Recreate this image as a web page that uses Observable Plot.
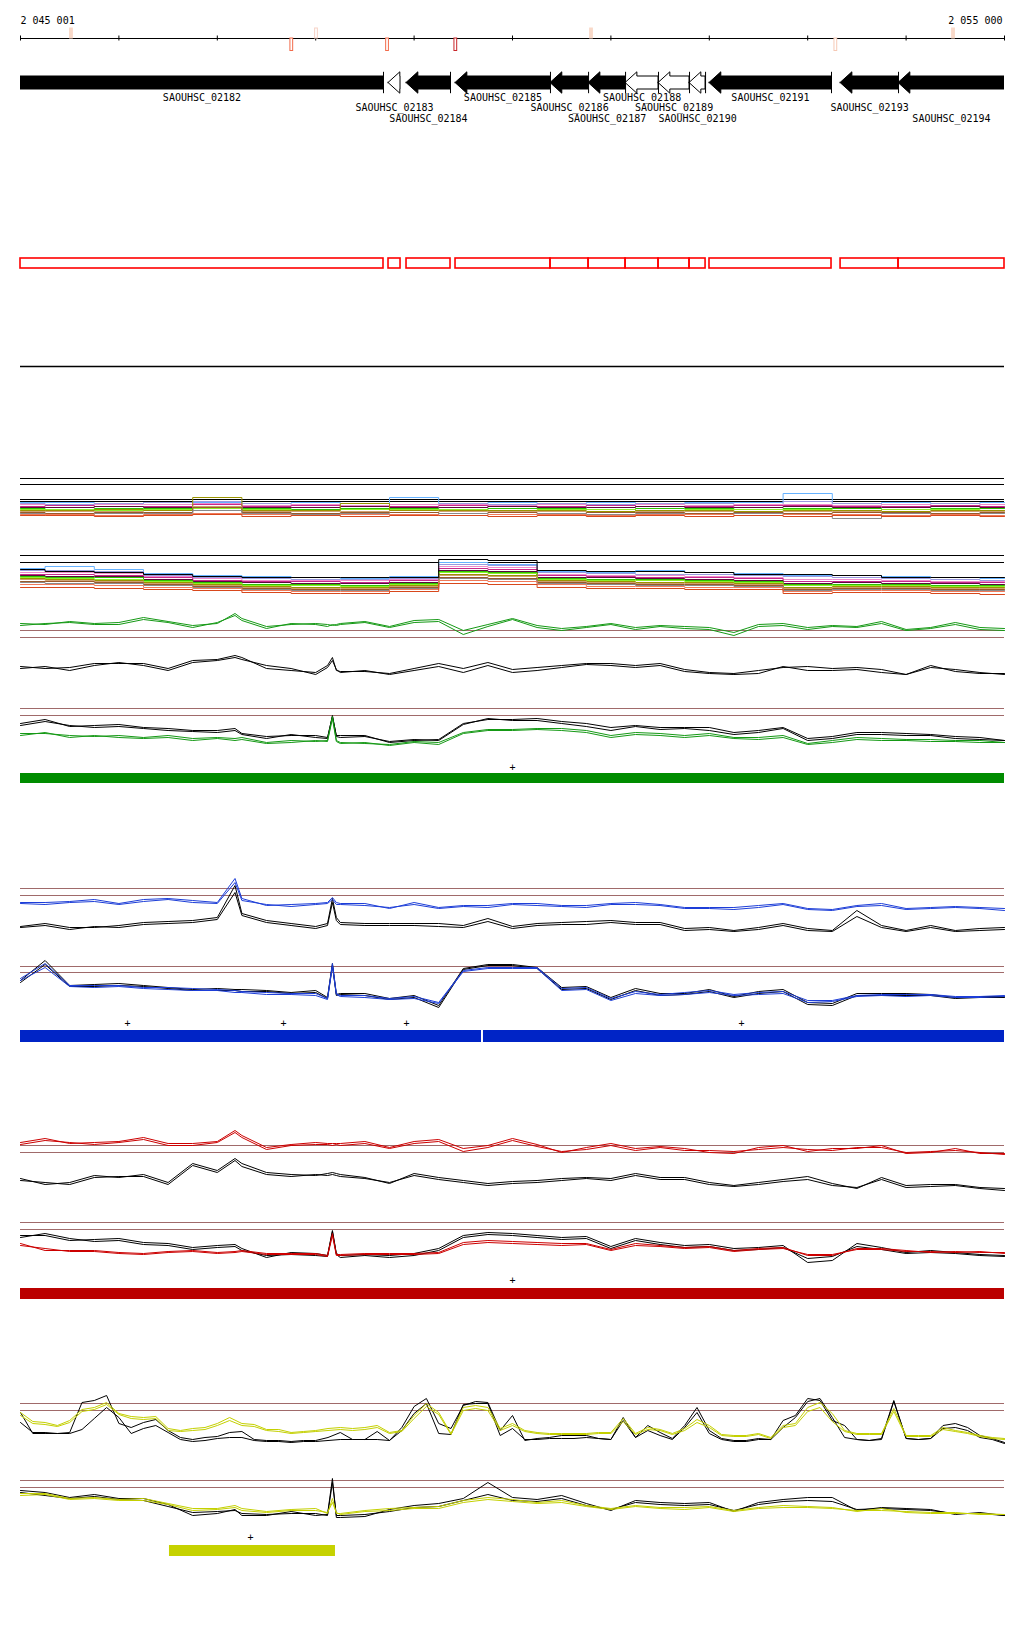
<!DOCTYPE html>
<html><head><meta charset="utf-8">
<script src="https://cdn.jsdelivr.net/npm/d3@7"></script>
<script src="https://cdn.jsdelivr.net/npm/@observablehq/plot@0.6"></script>
<style>
html,body{margin:0;padding:0;background:#fff;}
#chart{position:relative;width:1024px;height:1640px;overflow:hidden;}
</style></head><body><div id="chart"></div><script>
// ---------- DATA ----------
const viewStart = 2045000, viewEnd = 2055000;
const startLabel = "2 045 001", endLabel = "2 055 000";
const rulerTicks = [2045000,2046000,2047000,2048000,2049000,2050000,2051000,2052000,2053000,2054000,2055000];

const geneNames = ["SAOUHSC_02182","SAOUHSC_02183","SAOUHSC_02184","SAOUHSC_02185","SAOUHSC_02186","SAOUHSC_02187","SAOUHSC_02188","SAOUHSC_02189","SAOUHSC_02190","SAOUHSC_02191","SAOUHSC_02193","SAOUHSC_02194"];
const geneStart = [2043800,2048740,2048923,2049421,2050386,2050773,2051149,2051484,2051799,2052002,2053334,2053923];
const geneEnd   = [2048689,2048862,2049370,2050386,2050773,2051149,2051484,2051799,2051962,2053242,2053923,2055600];
const geneClass = ["A","B","A","A","A","A","B","B","B","A","A","A"];

const snpPos  = [2045518,2047757,2048008,2048730,2049424,2050803,2053286,2054482];
const snpSide = ["up","down","up","down","down","up","down","up"];
const snpKind = ["pale","mid","faint","mid","strong","pale","light","pale"];

const pos21 = [2045000,2045500,2046000,2046500,2047000,2047500,2048000,2048500,2049000,2049500,2050000,2050500,2051000,2051500,2052000,2052500,2053000,2053500,2054000,2054500,2055000];
const pos45 = [2045000,2045250,2045500,2045750,2046000,2046250,2046500,2046750,2047000,2047180,2047250,2047500,2047750,2048000,2048120,2048170,2048210,2048250,2048500,2048750,2049000,2049250,2049500,2049750,2050000,2050250,2050500,2050750,2051000,2051250,2051500,2051750,2052000,2052250,2052500,2052750,2053000,2053250,2053500,2053750,2054000,2054250,2054500,2054750,2055000];
const pos81 = [2045000,2045125,2045250,2045375,2045500,2045625,2045750,2045875,
2046000,2046125,2046250,2046375,2046500,2046625,2046750,2046875,
2047000,2047125,2047250,2047375,2047500,2047625,2047750,2047875,
2048000,2048125,2048250,2048375,2048500,2048625,2048750,2048875,
2049000,2049125,2049250,2049375,2049500,2049625,2049750,2049875,
2050000,2050125,2050250,2050375,2050500,2050625,2050750,2050875,
2051000,2051125,2051250,2051375,2051500,2051625,2051750,2051875,
2052000,2052125,2052250,2052375,2052500,2052625,2052750,2052875,
2053000,2053125,2053250,2053375,2053500,2053625,2053750,2053875,
2054000,2054125,2054250,2054375,2054500,2054625,2054750,2054875,2055000];

// multi-sample tracks (13 colored profiles + black in track 2)
const track1 = [
[10.8,10.8,10.7,10.8,10.8,10.7,10.8,10.7,11.3,10.7,10.8,10.7,10.8,10.7,10.8,10.8,11.7,10.7,10.8,10.7,10.8],
[10.7,10.6,10.7,10.8,10.9,10.7,10.6,10.7,10.6,10.7,10.6,10.7,10.6,10.7,10.7,10.6,10.9,10.7,10.6,10.7,10.6],
[10.6,10.5,10.6,10.6,10.7,10.5,10.6,10.5,10.6,10.6,10.5,10.6,10.5,10.6,10.5,10.6,10.6,10.5,10.6,10.5,10.6],
[10.4,10.5,10.4,10.4,10.6,10.4,10.5,10.4,10.4,10.5,10.4,10.4,10.5,10.4,10.4,10.5,10.5,10.4,10.4,10.5,10.4],
[10.3,10.3,10.4,10.3,10.4,10.3,10.3,10.4,10.3,10.3,10.4,10.3,10.3,10.4,10.3,10.3,10.4,10.3,10.3,10.4,10.3],
[10.2,10.1,10.2,10.2,10.3,10.2,10.1,10.2,10.2,10.1,10.2,10.2,10.1,10.2,10.2,10.1,10.2,10.2,10.1,10.2,10.2],
[10.1,10.1,10.0,10.1,10.2,10.1,10.0,10.1,10.1,10.1,10.0,10.1,10.1,10.0,10.1,10.1,10.1,10.0,10.1,10.1,10.0],
[10.0,10.0,10.1,10.0,11.3,10.0,10.0,10.7,10.0,10.0,10.0,10.0,9.9,10.0,10.0,9.9,10.0,10.0,9.9,10.0,10.0],
[9.9,9.9,9.9,9.8,10.4,9.9,9.9,9.9,9.8,9.9,9.9,9.9,9.8,9.9,9.9,9.8,9.9,9.9,9.8,9.9,9.9],
[9.8,9.7,9.8,9.8,10.3,9.8,9.7,9.8,9.8,9.7,9.8,9.7,9.8,9.8,9.7,9.8,9.7,9.8,9.8,9.7,9.8],
[9.7,9.6,9.7,9.7,10.0,9.7,9.6,9.7,9.6,9.7,9.6,9.7,9.6,9.7,9.6,9.7,9.6,9.2,9.7,9.6,9.7],
[9.6,9.6,9.5,9.6,9.7,9.6,9.5,9.6,9.6,9.5,9.6,9.6,9.5,9.6,9.6,9.5,9.6,9.6,9.5,9.6,9.5],
[9.5,9.5,9.4,9.5,9.6,9.4,9.5,9.4,9.5,9.5,9.4,9.5,9.4,9.5,9.4,9.5,9.4,9.5,9.4,9.5,9.4]
];
const track2 = [
[4.1,3.9,3.8,3.6,3.4,3.3,3.3,3.3,3.3,5.1,5.0,4.0,3.9,3.9,3.8,3.6,3.6,3.5,3.3,3.3,3.3],
[4.2,4.4,4.1,3.7,3.5,3.4,3.3,3.2,3.4,4.8,4.6,3.9,3.8,4.0,3.8,3.7,3.5,3.5,3.4,3.3,3.2],
[4.0,4.0,3.9,3.5,3.3,3.2,3.1,3.1,3.2,4.6,4.5,3.8,3.7,3.6,3.6,3.5,3.4,3.3,3.2,3.1,3.0],
[3.8,3.8,3.7,3.4,3.2,3.0,3.0,3.0,3.1,4.4,4.3,3.6,3.5,3.5,3.4,3.3,3.1,3.1,3.0,2.9,2.9],
[3.6,3.6,3.5,3.3,3.0,2.9,2.9,2.8,3.0,4.2,4.1,3.5,3.4,3.3,3.3,3.2,2.9,2.9,2.9,2.8,2.8],
[3.5,3.4,3.4,3.1,2.9,2.8,2.7,2.7,2.8,4.0,3.9,3.3,3.3,3.2,3.1,3.0,2.7,2.8,2.7,2.7,2.6],
[3.4,3.3,3.3,3.0,2.8,2.6,2.6,2.5,2.7,3.9,3.8,3.2,3.1,3.1,3.0,2.9,2.6,2.6,2.6,2.5,2.5],
[3.3,3.2,3.1,2.9,2.7,2.5,2.5,2.4,2.6,3.8,3.7,3.1,3.0,3.0,2.9,2.8,2.5,2.5,2.5,2.4,2.4],
[3.2,3.1,3.0,2.8,2.6,2.4,2.3,2.3,2.5,3.6,3.5,3.0,2.9,2.8,2.8,2.7,2.3,2.4,2.4,2.3,2.3],
[3.1,3.0,2.9,2.7,2.5,2.3,2.2,2.2,2.4,3.5,3.4,2.9,2.8,2.7,2.7,2.6,2.2,2.3,2.3,2.2,2.2],
[2.9,2.9,2.8,2.6,2.4,2.2,2.1,2.1,2.3,3.3,3.2,2.8,2.7,2.6,2.6,2.5,2.1,2.2,2.2,2.1,2.1],
[2.8,2.7,2.7,2.5,2.3,2.1,2.0,2.0,2.2,3.2,3.1,2.7,2.6,2.5,2.5,2.4,2.0,2.1,2.1,2.0,2.0],
[2.6,2.6,2.5,2.3,2.2,2.0,1.9,1.9,2.1,3.0,2.9,2.6,2.4,2.4,2.3,2.3,1.9,2.0,2.0,1.9,1.9],
[2.3,2.3,2.2,2.1,2.0,1.8,1.7,1.7,1.9,2.7,2.6,2.3,2.2,2.2,2.1,2.1,1.7,1.8,1.8,1.7,1.6]
];
const track1Refs = [13.2,12.6,11.1,10.9];
const track2Refs = [5.5,4.8];

// green condition
const greenTopA = [17.7,17.6,17.9,17.7,17.8,18.3,17.9,17.5,17.7,18.7,18.2,17.4,17.6,17.7,17.6,17.5,17.6,17.7,17.9,17.4,18.0,18.1,17.0,17.6,18.2,17.5,17.2,17.4,17.7,17.3,17.5,17.4,17.3,16.8,17.6,17.7,17.3,17.5,17.4,17.9,17.1,17.3,17.8,17.3,17.2];
const greenTopB = [17.5,17.7,17.8,17.6,17.6,18.1,17.8,17.3,17.8,18.5,18.0,17.2,17.7,17.6,17.4,17.6,17.5,17.6,17.8,17.3,17.8,17.9,16.6,17.4,18.1,17.3,17.0,17.3,17.6,17.1,17.4,17.2,17.1,16.5,17.4,17.5,17.1,17.4,17.3,17.7,17.0,17.2,17.6,17.1,17.0];
const greenCtlA = [13.4,13.2,13.3,13.7,13.7,13.7,13.2,14.0,14.1,14.5,14.3,13.2,13.0,12.8,13.5,14.3,13.0,12.9,12.9,12.7,13.2,13.7,13.2,13.8,13.1,13.3,13.5,13.7,13.7,13.5,13.7,13.1,12.8,12.7,13.0,13.3,13.4,13.2,13.3,13.1,12.6,13.5,12.9,12.7,12.7];
const greenCtlB = [13.2,13.4,13.0,13.5,13.8,13.5,13.0,13.8,14.0,14.3,14.1,13.5,13.2,12.6,13.3,14.0,13.1,12.8,13.0,12.6,13.0,13.4,12.8,13.5,12.8,13.0,13.3,13.6,13.5,13.3,13.5,12.9,12.7,12.6,12.7,13.4,13.0,13.0,13.1,12.8,12.6,13.3,13.1,12.8,12.6];
const greenLowCtlA = [7.7,8.1,7.4,7.5,7.6,7.3,7.2,7.0,7.0,7.2,6.7,6.4,6.5,6.5,6.3,8.4,6.5,6.5,6.5,5.8,6.0,6.1,7.7,8.1,8.1,8.2,7.9,7.7,7.3,7.5,7.3,7.3,7.3,6.8,7.0,7.3,6.2,6.4,6.8,6.8,6.7,6.6,6.4,6.3,6.0];
const greenLowCtlB = [7.5,7.9,7.5,7.3,7.4,7.2,7.0,6.9,6.8,7.0,6.6,6.2,6.6,6.3,6.2,8.5,6.4,6.3,6.4,5.9,6.1,6.0,7.6,8.2,8.0,8.0,7.7,7.4,7.0,7.4,7.1,7.2,7.0,6.6,6.8,7.2,6.0,6.2,6.6,6.6,6.5,6.5,6.2,6.1,6.0];
const greenLowA = [6.7,6.7,6.5,6.4,6.5,6.3,6.5,6.2,6.3,6.2,6.3,5.8,6.0,5.9,6.0,8.4,6.0,5.8,5.7,5.6,5.9,5.8,6.8,7.1,7.1,7.2,7.2,7.0,6.5,6.8,6.7,6.5,6.7,6.3,6.3,6.5,5.7,6.0,6.3,6.2,6.1,6.1,6.0,6.0,5.8];
const greenLowB = [6.5,6.8,6.3,6.5,6.3,6.2,6.3,6.0,6.2,6.0,6.1,5.7,5.8,6.0,5.9,8.2,5.9,5.7,5.8,5.5,5.8,5.6,6.7,7.0,7.0,7.1,7.0,6.8,6.3,6.6,6.5,6.3,6.5,6.2,6.1,6.3,5.6,5.8,6.1,6.0,6.0,5.9,5.9,5.8,5.8];
const greenRefs = [17.0,16.3,9.2,8.5];
const greenMarks = [2050000];
const greenRegions = [[2045000,2055000]];

// blue condition
const blueTopA = [16.8,16.8,16.9,17.1,16.7,17.1,17.2,17.0,16.8,19.2,17.2,16.5,16.6,16.7,16.8,17.3,16.8,16.7,16.7,16.2,16.8,16.3,16.5,16.5,16.7,16.7,16.5,16.5,16.7,16.8,16.6,16.3,16.3,16.3,16.5,16.7,16.2,16.1,16.5,16.7,16.2,16.3,16.4,16.3,16.2];
const blueTopB = [16.7,16.6,16.8,16.9,16.6,16.9,17.1,16.8,16.7,18.8,17.0,16.6,16.4,16.6,16.7,17.1,16.6,16.6,16.5,16.3,16.6,16.2,16.4,16.3,16.6,16.5,16.4,16.3,16.6,16.6,16.5,16.2,16.2,16.1,16.3,16.6,16.1,16.0,16.4,16.5,16.1,16.2,16.3,16.2,16.0];
const blueCtlA = [14.4,14.7,14.3,14.3,14.5,14.8,14.9,15.0,15.3,18.5,15.7,15.0,14.7,14.4,14.7,17.2,15.3,14.8,14.7,14.7,14.7,14.7,14.5,15.2,14.4,14.7,14.8,14.9,15.0,14.8,14.8,14.2,14.3,14.0,14.3,14.7,14.2,14.0,16.0,14.5,14.0,14.5,14.0,14.2,14.3];
const blueCtlB = [14.3,14.5,14.1,14.4,14.3,14.6,14.7,14.8,15.1,17.8,15.5,14.8,14.5,14.2,14.5,16.8,15.0,14.6,14.5,14.5,14.5,14.4,14.3,14.9,14.2,14.5,14.6,14.6,14.8,14.6,14.6,14.0,14.1,13.9,14.1,14.5,14.0,13.9,15.4,14.3,13.9,14.3,13.9,14.0,14.1];
const blueLowA = [9.2,10.7,8.5,8.5,8.5,8.3,8.3,8.2,8.1,8.0,7.9,7.8,7.7,7.7,7.2,10.7,7.7,7.5,7.5,7.2,7.4,6.8,10.0,10.3,10.3,10.3,8.2,8.3,7.2,7.9,7.6,7.8,8.0,7.6,7.8,7.9,7.0,7.0,7.5,7.6,7.6,7.6,7.4,7.4,7.5];
const blueLowB = [9.0,10.3,8.4,8.3,8.4,8.2,8.1,8.0,8.0,7.8,7.8,7.6,7.6,7.5,7.1,10.4,7.6,7.4,7.3,7.1,7.2,6.7,9.9,10.2,10.2,10.2,8.0,8.1,7.0,7.7,7.5,7.6,7.8,7.5,7.6,7.7,6.8,6.9,7.4,7.5,7.4,7.5,7.3,7.3,7.4];
const blueLowCtlA = [9.0,11.0,8.5,8.6,8.7,8.5,8.3,8.1,8.2,8.1,8.1,8.0,7.8,8.0,7.3,10.7,7.6,7.7,7.7,7.2,7.5,6.5,10.2,10.6,10.6,10.3,8.3,8.4,7.3,8.2,7.7,7.7,8.1,7.4,7.9,8.1,6.8,6.7,7.7,7.7,7.7,7.6,7.3,7.4,7.4];
const blueLowCtlB = [8.8,10.6,8.4,8.4,8.5,8.4,8.2,8.0,8.0,8.0,7.9,7.9,7.7,7.8,7.2,10.5,7.5,7.6,7.5,7.1,7.3,6.3,10.1,10.5,10.5,10.2,8.1,8.2,7.1,8.0,7.5,7.6,7.9,7.3,7.7,7.9,6.6,6.5,7.5,7.5,7.5,7.5,7.2,7.3,7.3];
const blueRefs = [18.2,17.5,10.4,9.8];
const blueMarks = [2046087,2047673,2048923,2052327];
const blueRegions = [[2045000,2049685],[2049705,2055000]];

// red condition
const redTopA = [17.8,18.2,17.7,17.8,17.9,18.3,17.7,17.7,17.9,19.0,18.5,17.3,17.6,17.8,17.7,17.7,17.7,17.7,17.9,17.3,17.9,18.1,17.2,17.5,18.2,17.6,16.8,17.3,17.7,17.2,17.4,17.2,16.8,16.7,17.3,17.5,16.9,17.2,17.2,17.5,16.7,16.8,17.2,16.7,16.7];
const redTopB = [17.6,18.0,17.8,17.6,17.8,18.1,17.5,17.5,17.8,18.8,18.3,17.1,17.5,17.6,17.6,17.5,17.6,17.5,17.7,17.2,17.7,17.9,16.9,17.3,18.0,17.4,16.9,17.1,17.5,17.0,17.3,17.0,17.0,16.9,17.1,17.3,17.1,17.0,17.3,17.3,16.8,16.9,17.0,16.8,16.6];
const redCtlA = [14.2,13.6,13.8,14.5,14.3,14.6,13.8,15.7,15.0,16.2,15.7,14.8,14.6,14.5,14.7,14.8,14.7,14.6,14.3,13.7,14.7,14.3,14.0,13.7,13.9,14.0,14.2,14.3,14.2,14.7,14.3,14.3,13.8,13.5,13.8,14.1,14.4,13.7,13.2,14.3,13.5,13.6,13.6,13.3,13.2];
const redCtlB = [14.0,13.8,13.6,14.3,14.4,14.4,13.6,15.5,14.8,16.0,15.4,14.6,14.4,14.6,14.5,14.6,14.5,14.4,14.2,13.8,14.5,14.1,13.8,13.5,13.7,13.8,14.0,14.2,14.0,14.5,14.1,14.1,13.6,13.4,13.6,13.9,14.1,13.5,13.3,14.1,13.3,13.4,13.5,13.2,13.0];
const redLowCtlA = [8.5,8.5,8.0,8.1,8.2,7.8,7.7,7.3,7.5,7.6,7.2,6.3,6.8,6.7,6.5,9.0,6.7,6.5,6.6,6.5,6.7,7.2,8.5,8.8,8.7,8.5,8.3,8.4,7.4,8.2,7.8,7.5,7.6,7.2,7.3,7.5,5.8,6.0,7.7,7.3,6.8,7.0,6.8,6.6,6.5];
const redLowCtlB = [8.3,8.7,8.2,7.9,8.0,7.6,7.5,7.1,7.3,7.4,7.0,6.5,6.6,6.5,6.4,8.9,6.6,6.3,6.5,6.3,6.5,7.0,8.3,8.6,8.5,8.3,8.1,8.2,7.2,8.0,7.6,7.3,7.4,7.0,7.1,7.3,6.2,6.4,7.4,7.1,6.7,6.8,6.7,6.5,6.4];
const redLowA = [7.7,7.0,7.0,7.0,6.8,6.7,6.9,7.0,6.8,6.9,7.0,6.7,6.7,6.7,6.5,8.7,6.6,6.6,6.7,6.7,6.7,6.8,7.8,8.0,7.9,7.8,7.7,7.7,7.1,7.7,7.5,7.3,7.4,7.0,7.2,7.3,6.5,6.5,7.2,7.2,7.0,6.8,6.9,6.8,6.8];
const redLowB = [7.5,7.2,6.9,6.9,6.7,6.6,6.8,6.9,6.7,6.8,6.9,6.6,6.6,6.6,6.4,8.5,6.5,6.5,6.6,6.6,6.6,6.7,7.6,7.8,7.7,7.6,7.5,7.6,7.0,7.5,7.4,7.2,7.3,6.9,7.1,7.2,6.6,6.6,7.1,7.1,6.9,6.9,6.8,6.9,6.7];
const redRefs = [17.5,16.8,9.8,9.1];
const redMarks = [2050000];
const redRegions = [[2045000,2055000]];

// yellow condition (upper profiles on the 125 bp grid)
const yellowCtlA = [15.8,14.8,14.8,14.7,14.8,17.8,18.0,18.5,15.7,15.3,15.8,16.1,15.0,14.3,14.1,14.3,14.4,14.8,14.9,14.1,14.0,14.0,13.9,14.0,14.0,14.3,14.8,14.1,14.1,14.9,14.0,15.3,17.4,18.2,15.7,15.2,17.5,17.9,17.8,15.0,16.5,14.0,14.2,14.3,14.5,14.5,14.5,14.2,14.1,16.3,14.3,15.5,14.8,14.2,15.5,17.3,15.0,14.2,14.0,14.0,14.2,14.1,16.0,16.5,18.2,18.0,16.0,15.5,14.1,14.0,14.2,18.0,14.2,14.1,14.2,15.5,15.7,15.3,14.5,14.2,13.8];
const yellowCtlB = [16.8,14.7,14.7,14.7,14.7,15.1,16.2,17.3,16.3,14.7,15.2,15.5,14.8,14.1,13.9,14.0,14.2,14.3,14.3,14.0,13.9,13.9,13.8,13.9,13.9,14.0,14.1,14.1,14.1,14.1,14.0,15.0,16.7,17.7,14.7,14.6,17.6,17.7,17.7,14.5,15.2,14.1,14.1,14.2,14.2,14.2,14.3,14.2,14.1,16.0,14.3,15.0,14.5,14.1,15.3,16.8,14.7,14.1,13.9,13.9,14.1,14.1,15.3,16.3,17.9,18.2,16.3,14.3,14.1,14.0,14.1,17.9,14.2,14.1,14.2,15.2,15.3,15.0,14.3,14.1,13.7];
const yellowTopA = [16.8,15.9,15.8,15.5,16.0,17.1,17.3,17.8,16.7,16.4,16.3,16.4,15.2,15.0,15.2,15.3,15.7,16.3,15.7,15.6,15.1,15.1,14.8,14.9,15.0,15.2,15.3,15.2,15.3,15.5,14.8,15.0,16.5,17.7,16.8,14.7,17.3,17.5,17.3,15.2,15.7,15.0,14.8,14.7,14.7,14.7,14.7,14.8,14.8,16.2,14.7,15.3,15.1,14.7,15.2,16.1,15.5,14.6,14.5,14.5,14.7,14.3,15.5,15.7,17.3,17.8,16.7,15.0,14.7,14.7,14.7,17.2,14.5,14.5,14.5,15.3,15.0,14.8,14.5,14.3,14.2];
const yellowTopB = [16.5,15.7,15.6,15.4,15.8,16.9,17.1,17.6,16.6,16.2,16.1,16.2,15.0,14.9,15.0,15.1,15.5,16.0,15.5,15.4,15.0,14.9,14.7,14.8,14.9,15.0,15.1,15.0,15.1,15.3,14.7,14.9,16.2,17.4,16.6,14.6,17.0,17.2,17.0,15.0,15.5,14.9,14.7,14.6,14.6,14.6,14.6,14.7,14.7,15.9,14.6,15.1,15.0,14.6,15.0,15.8,15.3,14.5,14.4,14.4,14.6,14.2,15.3,15.5,16.9,17.3,15.9,14.9,14.6,14.6,14.6,16.9,14.4,14.4,14.4,15.1,14.9,14.7,14.4,14.2,14.1];
const yellowLowCtlA = [9.0,8.8,8.3,8.6,8.2,8.2,7.6,6.5,6.7,7.1,6.5,6.5,6.9,6.5,6.6,10.2,6.3,6.3,6.4,7.1,7.5,7.7,8.2,9.8,8.3,8.1,8.5,7.7,7.0,8.0,7.8,7.7,7.8,6.9,7.8,8.1,8.3,8.3,7.0,7.3,7.2,7.1,6.6,6.8,6.5];
const yellowLowCtlB = [8.8,8.5,8.2,8.4,8.1,8.0,7.4,6.8,6.9,7.0,6.7,6.6,6.7,6.7,6.5,9.8,6.5,6.5,6.6,6.9,7.3,7.4,8.0,8.6,8.0,7.9,8.2,7.5,7.1,7.8,7.6,7.5,7.6,7.0,7.6,7.9,8.0,7.9,7.1,7.2,7.1,7.0,6.7,6.7,6.5];
const yellowLowA = [8.7,8.7,8.2,8.3,8.1,8.2,7.7,7.2,7.2,7.5,7.2,6.9,7.1,7.2,6.7,8.2,6.7,6.7,7.0,7.2,7.3,7.4,8.0,8.3,8.1,7.8,8.0,7.5,7.2,7.5,7.3,7.3,7.4,7.0,7.3,7.5,7.4,7.3,6.9,7.2,6.8,6.7,6.7,6.7,6.6];
const yellowLowB = [8.5,8.6,8.1,8.2,8.0,8.0,7.6,7.0,7.1,7.3,7.0,6.8,7.0,7.0,6.8,7.8,6.8,6.6,6.9,7.0,7.2,7.2,7.8,8.1,7.9,7.7,7.8,7.4,7.1,7.4,7.2,7.1,7.3,6.9,7.2,7.3,7.3,7.2,7.0,7.0,6.9,6.8,6.8,6.6,6.6];
const yellowRefs = [17.7,17.0,10.0,9.3];
const yellowMarks = [2047337];
const yellowRegions = [[2046514,2048201]];

// ---------- DRAWING ----------
const FONT = "'DejaVu Sans Mono', 'Liberation Mono', monospace";
const BROWN = "#a06a6a";
const multiColors = ["#66b2ff","#9a9ae0","#f08ccc","#c8288c","#5c0a3c","#2ec400","#8cf02a","#9a9400","#d0a070","#9a5a2a","#8a8a8a","#f07a5a","#d8481c"];
const chart = document.getElementById("chart");

function addPanel(top, height, yMax, marks) {
  const svg = Plot.plot({
    width: 1024, height,
    marginLeft: 20, marginRight: 20, marginTop: 0, marginBottom: 0,
    x: {domain: [viewStart, viewEnd], axis: null},
    y: {domain: [0, yMax], axis: null},
    color: {type: "identity"},
    style: {background: "transparent", fontFamily: FONT, fontSize: "10px", overflow: "visible"},
    marks
  });
  svg.style.position = "absolute";
  svg.style.left = "0px";
  svg.style.top = top + "px";
  chart.appendChild(svg);
}
function rows(pos, vals, key, color) {
  return vals.map((v, i) => ({pos: pos[i], val: v, key, color}));
}
function lines(data, curve = "linear") {
  return Plot.line(data, {x: "pos", y: "val", z: "key", stroke: "color", strokeWidth: 1, curve});
}

// --- ruler and genes ---
const GC = 4.75, BODY = 0.65, HEADH = 1.07, HEADL = 120;
const geneIdx = geneNames.map((_, i) => i);
function arrow(i) {
  const s = geneStart[i], e = geneEnd[i], h = Math.min(HEADL, e - s);
  const r = [{x: s, y1: GC, y2: GC}, {x: s + h, y1: GC - HEADH, y2: GC + HEADH}];
  if (e - s > HEADL) r.push({x: s + h, y1: GC - BODY, y2: GC + BODY}, {x: e, y1: GC - BODY, y2: GC + BODY});
  return r.map(d => ({...d, name: geneNames[i], cls: geneClass[i]}));
}
const arrows = geneIdx.flatMap(arrow);
const visMid = i => (Math.max(geneStart[i], viewStart) + Math.min(geneEnd[i], viewEnd)) / 2;
const labelRow = [3.3, 2.3, 1.2];
const snpColors = {pale: ["#f9d9c9", "#f9d9c9"], faint: ["#f7d2c6", "#ffffff"], mid: ["#f26b4b", "#ffffff"], strong: ["#c8262a", "#ffffff"], light: ["#f6c9b5", "#ffffff"]};
const snpIdx = snpPos.map((_, i) => i);

addPanel(0, 130, 13, [
  Plot.text([startLabel], {x: viewStart, y: 11.0, text: d => d, textAnchor: "start", fontSize: 10, fill: "black"}),
  Plot.text([endLabel], {x: viewEnd, y: 11.0, text: d => d, textAnchor: "end", dx: -2, fontSize: 10, fill: "black"}),
  Plot.ruleY([9.2], {stroke: "black", strokeWidth: 1}),
  Plot.ruleX(rulerTicks, {y1: 8.95, y2: 9.45, stroke: "black", strokeWidth: 1}),
  Plot.rect(snpIdx, {x1: i => snpPos[i] - 14, x2: i => snpPos[i] + 14,
    y1: i => snpSide[i] === "up" ? 9.2 : 7.95, y2: i => snpSide[i] === "up" ? 10.2 : 9.2,
    stroke: i => snpColors[snpKind[i]][0], fill: i => snpColors[snpKind[i]][1], strokeWidth: 1}),
  Plot.areaY(arrows.filter(d => d.cls === "A"), {x: "x", y1: "y1", y2: "y2", z: "name", fill: "black", stroke: "black", strokeWidth: 1, curve: "linear", clip: true}),
  Plot.areaY(arrows.filter(d => d.cls === "B"), {x: "x", y1: "y1", y2: "y2", z: "name", fill: "white", stroke: "black", strokeWidth: 1, curve: "linear", clip: true}),
  Plot.ruleX(geneIdx.filter(i => geneEnd[i] < viewEnd && geneClass[i] === "A" || i === 6 || i === 7 || i === 8), {x: i => geneEnd[i], y1: GC - HEADH, y2: GC + HEADH, stroke: "black", strokeWidth: 1}),
  Plot.text(geneIdx, {x: visMid, y: i => labelRow[i % 3], text: i => geneNames[i], fontSize: 10, fill: "black"})
]);

// --- red feature boxes + separator ---
addPanel(240, 140, 14, [
  Plot.rect(geneIdx, {x1: i => Math.max(geneStart[i], viewStart), x2: i => Math.min(geneEnd[i], viewEnd), y1: 11.2, y2: 12.2, fill: "none", stroke: "#ff0000", strokeWidth: 1.6}),
  Plot.ruleY([1.4], {stroke: "black", strokeWidth: 1.5})
]);

// --- multi-sample tracks ---
const multiRows = [
  ...track1.flatMap((vals, j) => rows(pos21, vals, "t1-" + j, multiColors[j])),
  ...track2.flatMap((vals, j) => rows(pos21, vals, "t2-" + j, j === 0 ? "black" : multiColors[j - 1]))
];
addPanel(470, 140, 14, [
  Plot.ruleY(track1Refs, {stroke: "black", strokeWidth: 1}),
  Plot.ruleY(track2Refs, {stroke: "black", strokeWidth: 1}),
  lines(multiRows.filter(d => d.key.startsWith("t2") && d.key !== "t2-0"), "step"),
  lines(multiRows.filter(d => d.key.startsWith("t1")), "step"),
  lines(multiRows.filter(d => d.key === "t2-0"), "step")
]);

// --- condition panels ---
function conditionPanel(top, color, barColor, series, refs, marks, markY, regions, barY) {
  const data = series.flatMap(([pos, vals, key, c]) => rows(pos, vals, key, c));
  addPanel(top, 200, 20, [
    Plot.ruleY(refs, {stroke: BROWN, strokeWidth: 1}),
    lines(data.filter(d => d.color === "black")),
    lines(data.filter(d => d.color !== "black")),
    Plot.text(marks, {x: d => d, y: markY, text: () => "+", fontSize: 10, fill: "black"}),
    Plot.rect(regions, {x1: d => d[0], x2: d => d[1], y1: barY[0], y2: barY[1], fill: barColor})
  ]);
}
const GREEN = "#159915", BLUE = "#1d3ed8", RED = "#cc0000", YEL = "#c4d000";
conditionPanel(600, GREEN, "#008c00", [
  [pos45, greenCtlA, "c1", "black"], [pos45, greenCtlB, "c2", "black"],
  [pos45, greenLowCtlA, "c3", "black"], [pos45, greenLowCtlB, "c4", "black"],
  [pos45, greenTopA, "g1", GREEN], [pos45, greenTopB, "g2", GREEN],
  [pos45, greenLowA, "g3", GREEN], [pos45, greenLowB, "g4", GREEN]
], greenRefs, greenMarks, 3.3, greenRegions, [1.7, 2.7]);

conditionPanel(870, BLUE, "#0024c6", [
  [pos45, blueCtlA, "c1", "black"], [pos45, blueCtlB, "c2", "black"],
  [pos45, blueLowCtlA, "c3", "black"], [pos45, blueLowCtlB, "c4", "black"],
  [pos45, blueTopA, "g1", BLUE], [pos45, blueTopB, "g2", BLUE],
  [pos45, blueLowA, "g3", BLUE], [pos45, blueLowB, "g4", BLUE]
], blueRefs, blueMarks, 4.7, blueRegions, [2.8, 4.0]);

conditionPanel(1120, RED, "#bb0000", [
  [pos45, redCtlA, "c1", "black"], [pos45, redCtlB, "c2", "black"],
  [pos45, redLowCtlA, "c3", "black"], [pos45, redLowCtlB, "c4", "black"],
  [pos45, redTopA, "g1", RED], [pos45, redTopB, "g2", RED],
  [pos45, redLowA, "g3", RED], [pos45, redLowB, "g4", RED]
], redRefs, redMarks, 4.0, redRegions, [2.1, 3.2]);

conditionPanel(1380, YEL, "#c6d200", [
  [pos81, yellowCtlA, "c1", "black"], [pos81, yellowCtlB, "c2", "black"],
  [pos45, yellowLowCtlA, "c3", "black"], [pos45, yellowLowCtlB, "c4", "black"],
  [pos81, yellowTopA, "g1", YEL], [pos81, yellowTopB, "g2", YEL],
  [pos45, yellowLowA, "g3", YEL], [pos45, yellowLowB, "g4", YEL]
], yellowRefs, yellowMarks, 4.3, yellowRegions, [2.4, 3.5]);
</script></body></html>
